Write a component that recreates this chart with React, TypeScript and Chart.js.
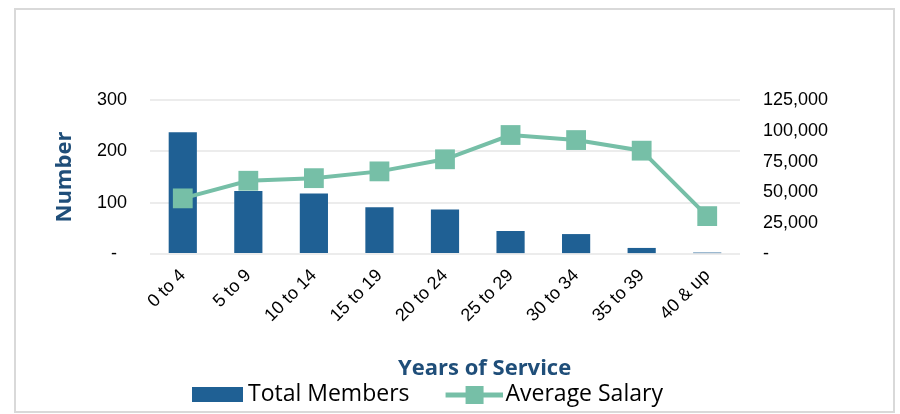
import React, { useEffect, useRef } from 'react';
import { Chart, registerables } from 'chart.js';

Chart.register(...registerables);

// ---- data ----
const categories = ['0 to 4', '5 to 9', '10 to 14', '15 to 19', '20 to 24', '25 to 29', '30 to 34', '35 to 39', '40 & up'];
const totalMembers = [237, 123, 118, 91, 87, 45, 39, 12, 3];
const averageSalary = [45200, 59500, 61600, 67100, 76900, 96600, 92500, 83900, 30800];
const seriesNames = ['Total Members', 'Average Salary'];
const yAxisTitle = 'Number';
const xAxisTitle = 'Years of Service';
const leftTicks = [0, 100, 200, 300];
const rightTicks = [0, 25000, 50000, 75000, 100000, 125000];

// ---- styles ----
const BAR = '#1F6094';
const LINE = '#76BFA7';
const TITLE = '#1F4E79';
const TICK_FONT = { family: 'Liberation Sans, Arial, sans-serif', size: 18 };

const CANVAS_W = 877;
const CANVAS_H = 401;

// legend swatches: content offset to the right inside a wider transparent image
function makeBarSwatch() {
  const c = document.createElement('canvas');
  c.width = 83;
  c.height = 15;
  const g = c.getContext('2d')!;
  g.fillStyle = BAR;
  g.fillRect(32, 0, 51, 15);
  return c;
}

function makeLineSwatch() {
  const c = document.createElement('canvas');
  c.width = 87;
  c.height = 18;
  const g = c.getContext('2d')!;
  g.fillStyle = LINE;
  g.fillRect(30, 7, 57, 5);
  g.fillRect(50, 0, 18, 18);
  return c;
}

const LEGEND_PAD = 14.5;

const placeBlocks = {
  id: 'placeBlocks',
  afterLayout(chart: any) {
    const tb = chart.titleBlock;
    if (tb) {
      const w = tb.right - tb.left;
      const h = tb.bottom - tb.top;
      tb.left = 382;
      tb.right = 382 + w;
      tb.top = 346;
      tb.bottom = 346 + h;
    }
    const lg = chart.legend;
    if (lg) {
      const w = lg.right - lg.left;
      const h = lg.bottom - lg.top;
      lg.left = 150.5 - LEGEND_PAD;
      lg.right = lg.left + w;
      lg.top = 373 - LEGEND_PAD;
      lg.bottom = lg.top + h;
    }
  },
};

export default function App() {
  const ref = useRef<HTMLCanvasElement>(null);

  useEffect(() => {
    if (!ref.current) return;
    const barSwatch = makeBarSwatch();
    const lineSwatch = makeLineSwatch();

    const chart = new Chart(ref.current, {
      type: 'bar',
      data: {
        labels: categories,
        datasets: [
          {
            type: 'bar',
            label: seriesNames[0],
            data: totalMembers,
            backgroundColor: BAR,
            yAxisID: 'y',
            order: 1,
            barPercentage: 0.43,
            categoryPercentage: 1,
          } as any,
          {
            type: 'line',
            label: seriesNames[1],
            data: averageSalary,
            borderColor: LINE,
            backgroundColor: LINE,
            borderWidth: 4,
            pointStyle: 'rect',
            pointRadius: 14,
            pointHoverRadius: 14,
            pointBackgroundColor: LINE,
            pointBorderColor: LINE,
            pointBorderWidth: 0,
            tension: 0,
            yAxisID: 'y1',
            order: 0,
          } as any,
        ],
      },
      options: {
        responsive: false,
        maintainAspectRatio: false,
        animation: false,
        layout: { padding: { top: 90, left: 0, right: 0, bottom: 0 } },
        plugins: {
          tooltip: { enabled: false },
          title: {
            display: true,
            text: xAxisTitle,
            position: 'bottom',
            align: 'start',
            weight: 500,
            color: TITLE,
            font: { family: 'Open Sans', size: 22, weight: 'bold' },
            padding: 0,
          } as any,
          legend: {
            display: true,
            position: 'bottom',
            align: 'start',
            labels: {
              usePointStyle: true,
              pointStyleWidth: 70,
              padding: LEGEND_PAD,
              color: '#000',
              font: { family: 'Open Sans', size: 23 },
              sort: (a: any, b: any) => a.datasetIndex - b.datasetIndex,
              generateLabels: (c: any) => {
                const items = (Chart.defaults.plugins.legend.labels as any).generateLabels(c);
                return items.map((it: any) => ({
                  ...it,
                  pointStyle: it.datasetIndex === 0 ? barSwatch : lineSwatch,
                  fontColor: '#000',
                }));
              },
            },
          },
        },
        scales: {
          x: {
            type: 'category',
            grid: { display: false, drawTicks: false },
            border: { display: false },
            ticks: {
              autoSkip: false,
              maxRotation: 45,
              minRotation: 45,
              padding: 11,
              color: '#000',
              font: TICK_FONT,
            },
            afterFit: (s: any) => {
              s.height = 83;
            },
          },
          y: {
            position: 'left',
            min: leftTicks[0],
            max: leftTicks[leftTicks.length - 1],
            ticks: {
              stepSize: leftTicks[1] - leftTicks[0],
              padding: 23,
              color: '#000',
              font: TICK_FONT,
              callback: (v: any) => (Number(v) === 0 ? '-  ' : String(v)),
            },
            grid: { color: '#ececec', lineWidth: 2, drawTicks: false },
            border: { display: false },
            title: {
              display: true,
              text: yAxisTitle,
              color: TITLE,
              font: { family: 'Open Sans', size: 22, weight: 'bold' },
              padding: { top: 36, bottom: 0 },
            },
            afterFit: (s: any) => {
              s.width = 134;
            },
          },
          y1: {
            position: 'right',
            min: rightTicks[0],
            max: rightTicks[rightTicks.length - 1],
            ticks: {
              stepSize: rightTicks[1] - rightTicks[0],
              padding: 23,
              color: '#000',
              font: TICK_FONT,
              callback: (v: any) => (Number(v) === 0 ? '-' : Number(v).toLocaleString('en-US')),
            },
            grid: { display: false, drawTicks: false },
            border: { display: false },
            afterFit: (s: any) => {
              s.width = 153;
            },
          },
        },
      } as any,
      plugins: [placeBlocks],
    });

    return () => chart.destroy();
  }, []);

  return (
    <div
      style={{
        position: 'absolute',
        left: 14,
        top: 8,
        width: 881,
        height: 405,
        boxSizing: 'border-box',
        border: '2px solid #d9d9d9',
        background: '#fff',
      }}
    >
      <canvas ref={ref} width={CANVAS_W} height={CANVAS_H} style={{ display: 'block', width: CANVAS_W, height: CANVAS_H }} />
    </div>
  );
}
